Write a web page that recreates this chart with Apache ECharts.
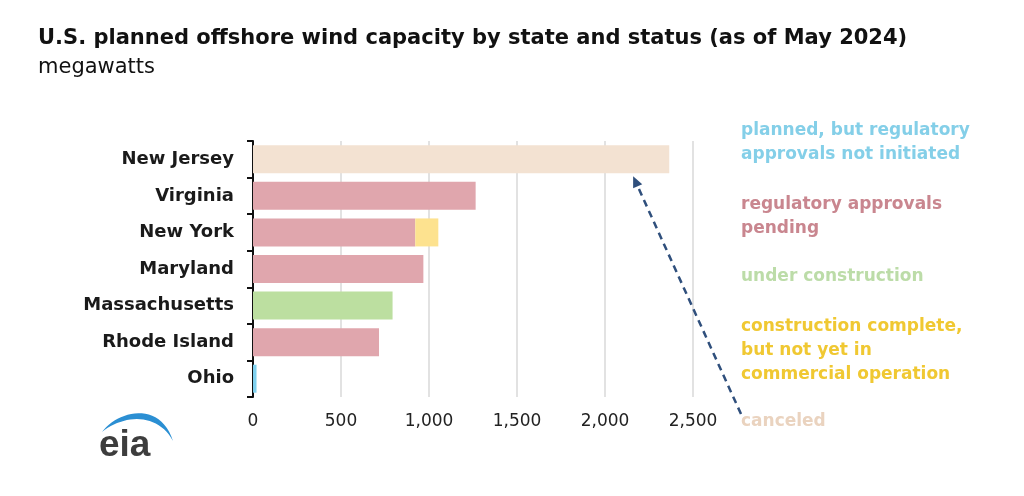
<!DOCTYPE html>
<html>
<head>
	<meta charset="UTF-8">
	<title>offshore wind</title>
	<script src="https://cdn.jsdelivr.net/npm/echarts@6/dist/echarts.min.js"></script>
	<style>
		html, body { margin: 0; padding: 0; background: #fff; }
		#chart { width: 1024px; height: 496px; }
	</style>
</head>
<body>
	<div id="chart"></div>
	<script>
		// data (megawatts)
		var states = ['New Jersey', 'Virginia', 'New York', 'Maryland', 'Massachusetts', 'Rhode Island', 'Ohio'];
		var planned = ['-', '-', '-', '-', '-', '-', 20];
		var pending = ['-', 1265, 922, 968, '-', 716, '-'];
		var underConstruction = ['-', '-', '-', '-', 793, '-', '-'];
		var complete = ['-', '-', 131, '-', '-', '-', '-'];
		var canceled = [2365, '-', '-', '-', '-', '-', '-'];
		var xTicks = [0, 500, 1000, 1500, 2000, 2500];

		var font = '"DejaVu Sans", Verdana, sans-serif';
		var chart = echarts.init(document.getElementById('chart'));

		function bar(name, data, color) {
			return {
				name: name, type: 'bar', stack: 'all', data: data,
				barWidth: 28,
				itemStyle: { color: color },
				silent: true
			};
		}

		chart.setOption({
			animation: false,
			title: [{
				text: 'U.S. planned offshore wind capacity by state and status (as of May 2024)',
				left: 33, top: 23,
				textStyle: { fontFamily: font, fontSize: 21, fontWeight: 'bold', color: '#111' }
			}, {
				text: 'megawatts',
				left: 33, top: 52,
				textStyle: { fontFamily: font, fontSize: 21, fontWeight: 'normal', color: '#111' }
			}],
			grid: { left: 253, right: 331, top: 141, bottom: 99 },
			xAxis: {
				type: 'value',
				min: xTicks[0], max: xTicks[xTicks.length - 1], interval: 500,
				axisLine: { show: false },
				axisTick: { show: false },
				splitLine: { lineStyle: { color: '#d9d9d9', width: 1.5 } },
				axisLabel: {
					fontFamily: font, fontSize: 17, color: '#222', margin: 16,
					formatter: function (v) { return v.toLocaleString('en-US'); }
				}
			},
			yAxis: {
				type: 'category', data: states, inverse: true,
				axisLine: { show: true, lineStyle: { color: '#111', width: 2 } },
				axisTick: { show: true, length: 6, lineStyle: { color: '#111', width: 2 } },
				axisLabel: { fontFamily: font, fontSize: 18, fontWeight: 'bold', color: '#1a1a1a', margin: 19 }
			},
			series: [
				bar('planned', planned, '#7fd0ee'),
				bar('pending', pending, '#e0a6ad'),
				bar('under construction', underConstruction, '#bcdfa0'),
				bar('complete', complete, '#fde28f'),
				bar('canceled', canceled, '#f3e2d2')
			]
		});

		// arrow from the "canceled" label up to the New Jersey bar
		var head = chart.convertToPixel({ gridIndex: 0 }, [2160, 'New Jersey']);
		var hx = head[0], hy = head[1] + 17;
		var tx = 741, ty = 414;
		var ang = Math.atan2(hy - ty, hx - tx);
		var hl = 11, hw = 5;
		var bx = hx - hl * Math.cos(ang), by = hy - hl * Math.sin(ang);
		var px = -Math.sin(ang) * hw, py = Math.cos(ang) * hw;

		function label(text, y, color) {
			return {
				type: 'text', x: 741, y: y,
				style: {
					text: text, fill: color, lineHeight: 24,
					fontFamily: font, fontSize: 17, fontWeight: 'bold',
					verticalAlign: 'top', textVerticalAlign: 'top'
				}
			};
		}

		// eia swoosh outline (two cubic curves)
		function cubic(p0, p1, p2, p3, n) {
			var pts = [];
			for (var i = 0; i <= n; i++) {
				var t = i / n, u = 1 - t;
				pts.push([
					u * u * u * p0[0] + 3 * u * u * t * p1[0] + 3 * u * t * t * p2[0] + t * t * t * p3[0],
					u * u * u * p0[1] + 3 * u * u * t * p1[1] + 3 * u * t * t * p2[1] + t * t * t * p3[1]
				]);
			}
			return pts;
		}
		var swoosh = cubic([102, 432], [117, 411], [160, 400], [173, 441], 24)
			.concat(cubic([173, 441], [158, 413], [124, 414], [102, 432], 24));

		chart.setOption({
			graphic: [
				label('planned, but regulatory\napprovals not initiated', 119, '#84cfe8'),
				label('regulatory approvals\npending', 193, '#c9868f'),
				label('under construction', 265, '#bcdca8'),
				label('construction complete,\nbut not yet in\ncommercial operation', 315, '#f0c832'),
				label('canceled', 410, '#ead3bf'),
				{
					type: 'line',
					shape: { x1: tx, y1: ty, x2: bx, y2: by },
					style: { stroke: '#2f4f7c', lineWidth: 2.5, lineDash: [7, 5] }
				},
				{
					type: 'polygon',
					shape: { points: [[hx, hy], [bx + px, by + py], [bx - px, by - py]] },
					style: { fill: '#2f4f7c' }
				},
				{
					type: 'polygon',
					shape: { points: swoosh },
					style: { fill: '#2b8fd3' }
				},
				{
					type: 'text', x: 99, y: 446,
					style: {
						text: 'eia', fill: '#3d3d3d',
						fontFamily: 'Arial, "Liberation Sans", sans-serif', fontSize: 37, fontWeight: 'bold',
						verticalAlign: 'middle', textVerticalAlign: 'middle'
					}
				}
			]
		});
	</script>
</body>
</html>
